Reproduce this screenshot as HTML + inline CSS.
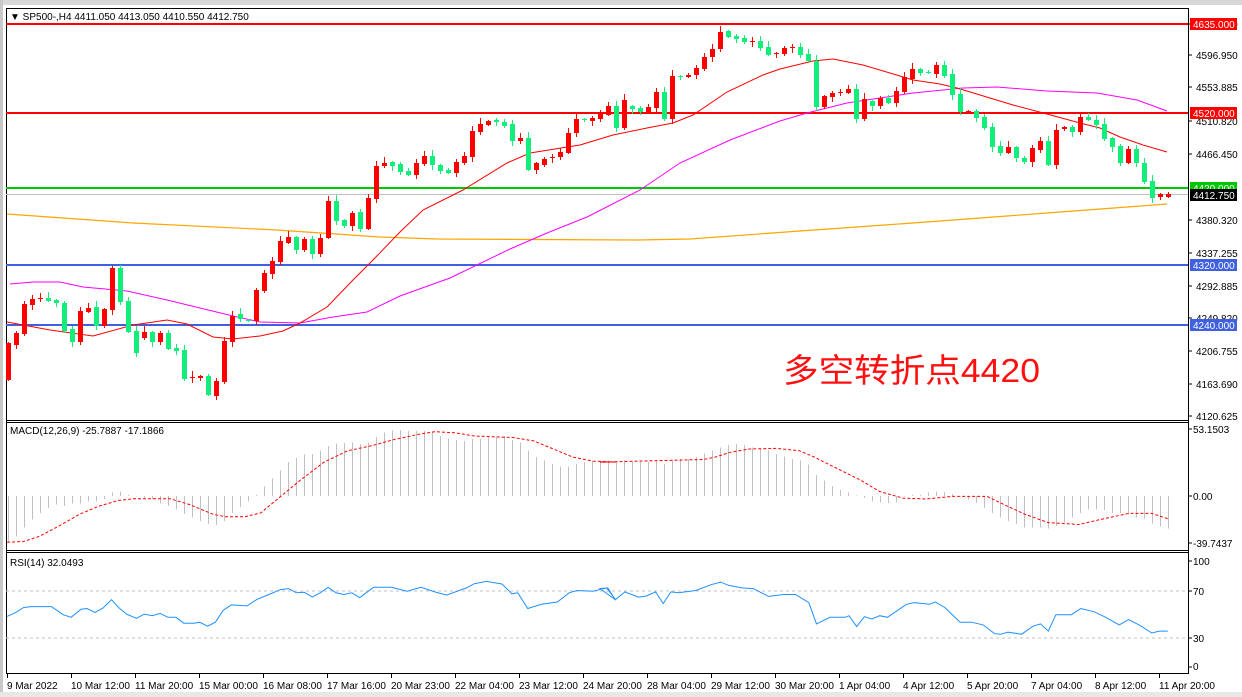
<!DOCTYPE html>
<html><head><meta charset="utf-8"><style>
html,body{margin:0;padding:0;background:#fff;}
svg{display:block;font-family:"Liberation Sans","Noto Sans CJK SC",sans-serif;}
</style></head><body>
<svg id="s" width="1242" height="697" xmlns="http://www.w3.org/2000/svg">
<rect x="0" y="0" width="1242" height="697" fill="#fff"/>
<rect x="0" y="0" width="1242" height="5" fill="#d8d8d8"/>
<rect x="0" y="0" width="3" height="697" fill="#c8c8c8"/>
<rect x="0" y="692" width="1242" height="5" fill="#e8e8e8"/>
<g id="g"></g>
<text x="783" y="382" font-size="33" textLength="257" lengthAdjust="spacingAndGlyphs" fill="#ff1010" font-family="'Liberation Sans','Noto Sans CJK SC',sans-serif">多空转折点4420</text>
</svg>
<script>
var g=document.getElementById('g'),h='';
function L(x1,y1,x2,y2,c,w,d){h+='<line x1="'+x1+'" y1="'+y1+'" x2="'+x2+'" y2="'+y2+'" stroke="'+c+'" stroke-width="'+(w||1)+'"'+(d?' stroke-dasharray="'+d+'"':'')+' shape-rendering="crispEdges"/>';}
function R(x,y,w,hh,c){h+='<rect x="'+x+'" y="'+y+'" width="'+w+'" height="'+hh+'" fill="'+c+'" shape-rendering="crispEdges"/>';}
function T(x,y,t,c,s,a){h+='<text x="'+x+'" y="'+y+'" font-size="'+(s||10)+'" fill="'+(c||'#000')+'"'+(a?' text-anchor="'+a+'"':'')+'>'+t+'</text>';}
function P(pts,c,w,d){h+='<polyline fill="none" stroke="'+c+'" stroke-width="'+(w||1)+'"'+(d?' stroke-dasharray="'+d+'"':'')+' points="'+pts.map(function(p){return p[0].toFixed(1)+','+p[1].toFixed(1)}).join(' ')+'"/>';}
var X0=6,X1=1188;
R(X0,8,X1-X0,1,'#000');R(X0,420,X1-X0,1,'#000');R(X0,422,X1-X0,1,'#000');R(X0,550,X1-X0,1,'#000');R(X0,552,X1-X0,1,'#000');R(X0,673,X1-X0,1,'#000');
R(X0,8,1,666,'#000');R(X1,8,1,666,'#000');
L(X0,24,X1,24,'#ff0000',2);L(X0,113,X1,113,'#ff0000',2);L(X0,188,X1,188,'#00c800',2);L(X0,194.5,X1,194.5,'#c0c0c0',1);
L(X0,265,X1,265,'#4060e0',2);L(X0,325,X1,325,'#4060e0',2);
var ora=[[7,214],[133,223],[277,230],[380,237],[437,239],[637,240],[690,239],[800,231],[913,223],[1047,213],[1167,204]];
P(ora,'#ffa500',1.2);
var mag=[[10,284],[33,282],[60,282],[83,287],[127,291],[167,300],[200,308],[233,316],[260,322],[300,323],[333,317],[367,312],[400,296],[450,278],[510,249],[547,233],[587,217],[640,190],[680,163],[730,140],[780,121],[807,113],[847,103],[913,93],[963,88],[997,87],[1047,91],[1097,93],[1137,100],[1167,111]];
P(mag,'#ff00ff',1);
var red=[[7,322],[50,330],[93,336],[133,325],[167,320],[187,324],[213,337],[233,339],[260,336],[283,331],[300,323],[327,307],[353,280],[373,260],[400,232],[423,210],[463,190],[507,163],[530,153],[580,145],[613,135],[647,128],[673,123],[693,115],[727,92],[763,75],[780,69],[813,61],[833,59],[863,65],[890,73],[913,80],[940,84],[957,88],[980,95],[1013,105],[1047,114],[1080,123],[1100,128],[1120,137],[1143,145],[1167,152]];
P(red,'#ff0000',1);
var A=[[490,600,'r'],[460,495,'r'],[372,462,'r'],[357,375,'r'],[353,358,'r'],[354,362,'g'],[360,370,'g'],[370,452,'g'],[447,485,'g'],[393,485,'r'],[384,395,'r'],[381,437,'g'],[387,437,'r'],[264,389,'r'],[264,365,'g'],[363,455,'g'],[453,518,'g'],[457,473,'r'],[457,485,'g'],[460,485,'r'],[459,507,'g'],[504,512,'g'],[510,596,'g'],[590,593,'r'],[588,593,'r'],[588,644,'g'],[603,647,'r'],[483,605,'r'],[408,485,'r'],[403,416,'g'],[420,422,'g'],[330,423,'r'],[280,332,'r'],[243,281,'r'],[183,245,'r'],[172,188,'r'],[170,210,'g'],[178,210,'r'],[177,221,'g'],[175,221,'r'],[63,173,'r'],[63,122,'g'],[121,137,'g'],[98,137,'r'],[97,148,'g'],[55,148,'r']];
var B=[[430,437,'r'],[425,437,'g'],[432,455,'g'],[452,465,'g'],[430,465,'r'],[408,432,'r'],[408,435,'g'],[435,452,'g'],[450,458,'g'],[427,458,'r'],[408,430,'r'],[333,410,'r'],[312,335,'r'],[302,315,'r'],[300,305,'g'],[305,318,'g'],[312,362,'g'],[355,362,'r'],[355,450,'g'],[430,450,'r'],[418,435,'r'],[410,413,'r'],[397,411,'r'],[340,398,'r'],[298,340,'r'],[298,300,'g'],[293,303,'r'],[280,298,'r'],[258,285,'r'],[258,325,'g'],[240,325,'r'],[258,266,'g'],[264,275,'g'],[262,278,'r'],[215,265,'r'],[216,296,'g'],[168,298,'r'],[168,172,'g'],[166,170,'r'],[145,166,'r'],[112,146,'r'],[87,112,'r'],[37,87,'r'],[34,50,'g'],[48,56,'g'],[55,65,'g'],[62,63,'r'],[63,83,'g'],[82,105,'g'],[98,103,'r']];
var C=[[85,103,'r'],[80,83,'r'],[82,105,'g'],[102,123,'g'],[122,262,'g'],[228,262,'r'],[218,230,'r'],[215,218,'r'],[208,218,'r'],[207,297,'g'],[238,296,'r'],[243,258,'g'],[235,258,'r'],[235,248,'g'],[213,248,'r'],[172,215,'r'],[147,177,'r'],[148,158,'g'],[156,160,'g'],[135,162,'r'],[135,168,'g'],[162,224,'g'],[222,275,'g'],[273,276,'r'],[272,293,'g'],[291,324,'g'],[321,381,'g'],[378,398,'g'],[381,398,'r'],[381,414,'g'],[414,425,'g'],[384,425,'r'],[363,390,'r'],[363,434,'g'],[330,434,'r'],[320,328,'r'],[320,335,'g'],[290,335,'r'],[291,300,'g'],[299,315,'g'],[312,356,'g'],[353,380,'g'],[377,428,'g'],[387,428,'r'],[387,428,'g'],[430,486,'g'],[484,533,'g'],[522,532,'r'],[522,530,'r']];
var cs=[];
A.forEach(function(c){cs.push([180+c[0]/3,180+c[1]/3,c[2]]);});
cs.push([166,199,'r']);
B.forEach(function(c){cs.push([20+c[0]/3,20+c[1]/3,c[2]]);});
C.forEach(function(c){cs.push([20+c[0]/3,20+c[1]/3,c[2]]);});
cs.forEach(function(c,i){
 var x=8+8*i,col=c[2]=='r'?'#ff0000':'#12ee7a';
 var t=Math.round(c[0]),b=Math.round(c[1]);if(b-t<1)b=t+1;
 var et=1+(i*37%6),eb=1+(i*53%5);
 L(x+0.5,t-et,x+0.5,b+eb,col,1);
 R(x-2,t,5,b-t,col);
});
var pl=[[4635.000,24],[4596.950,55],[4553.885,87],[4510.820,121],[4466.450,154],[4380.320,220],[4337.255,253],[4292.885,286],[4249.820,318],[4206.755,351],[4163.690,384],[4120.625,416]];
pl.forEach(function(p){L(X1,p[1],X1+4,p[1],'#000');T(1196,p[1]+4,p[0].toFixed(3),'#000',10);});
function box(y,t,bg,fg){R(1190,y-6,47,12,bg);T(1193,y+4,t,fg||'#fff',10);}
box(24,'4635.000','#ff0000');box(113,'4520.000','#ff0000');box(188,'4420.000','#00c800');box(195,'4412.750','#000','#fff');box(265,'4320.000','#4060e0');box(325,'4240.000','#4060e0');
T(10,20,'&#9660; SP500-,H4  4411.050 4413.050 4410.550 4412.750','#000',10);
T(10,434,'MACD(12,26,9) -25.7887 -17.1866','#000',10);
T(1193,433,'53.1503','#000',10);T(1193,500,'0.00','#000',10);T(1193,547,'-39.7437','#000',10);
L(X1,429,X1+4,429,'#000');L(X1,496,X1+4,496,'#000');L(X1,543,X1+4,543,'#000');
var hA=[380,362,335,311,290,275,265,270,262,262,255,255,248,228,225,235,240,245,248,262,270,280,293,305,315,325,328,315,290,272,256,236,210,185,160,135,122,112,110,100,85,78,76,75,80,75,58,45,38,37,40,40,40,45,55,62,68,70,65,62,60,58,55,68,75,100,120,130,140,148,148,140,135,130,132];
var hB=[130,135,130,135,135,135,130,140,130,125,125,120,108,100,90,83,80,83,90,95,100,110,118,125,130,143,175,192,208,220,228,237,245,255,258,260,258,240,235,236,228,225,226,232,238,250,260,275,290,305,315,325,335,335,335,338,330,320,305,290,280,280,282,290,290,295,305,308,323,332,338];
var hv=hA.concat(hB);
hv.forEach(function(v,i){var x=8+8*i+0.5,y=418+v/3.06;L(x,496,x,y,'#c0c0c0',1);});
var s6=[[18,380],[60,378],[100,362],[150,330],[200,295],[250,270],[300,252],[340,247],[430,247],[480,265],[540,295],[570,302],[620,302],[660,290],[700,250],[760,190],[820,135],[880,100],[940,85],[1000,65],[1060,50],[1100,42],[1150,45],[1200,55],[1300,60],[1350,70],[1400,95],[1450,120],[1500,132],[1560,135]].map(function(p){return[p[0]/2.53,418+p[1]/3.06]});
var s7=[[0,135],[270,127],[300,120],[340,105],[390,95],[460,93],[520,100],[560,120],[620,155],[680,190],[730,225],[790,245],[850,248],[920,240],[1010,240],[1060,268],[1110,295],[1170,320],[1250,326],[1300,312],[1380,292],[1440,292],[1482,308]].map(function(p){return[600+p[0]/2.61,418+p[1]/3.06]});
P(s6.concat(s7),'#ff0000',1,'3,2');
T(10,566,'RSI(14) 32.0493','#000',10);
L(X0,591,X1,591,'#c0c0c0',1,'3,3');L(X0,638,X1,638,'#c0c0c0',1,'3,3');
T(1193,565,'100','#000',10);T(1193,595,'70','#000',10);T(1193,642,'30','#000',10);T(1193,670,'0','#000',10);
[561,591,638,667].forEach(function(y){L(X1,y,X1+4,y,'#000');});
var r6=[[18,607],[40,595],[60,580],[80,577],[130,577],[160,602],[180,610],[205,585],[220,583],[240,595],[260,582],[282,556],[300,580],[320,600],[345,613],[365,600],[385,605],[405,598],[425,610],[445,610],[465,628],[490,628],[505,625],[525,637],[545,625],[565,588],[585,572],[625,575],[650,555],[680,540],[710,525],[730,522],[750,535],[770,533],[790,548],[810,535],[830,518],[850,535],[870,540],[890,535],[910,550],[945,518],[990,518],[1030,530],[1065,518],[1100,532],[1130,542],[1180,520],[1200,507],[1230,500],[1270,508],[1295,538],[1310,535],[1335,583],[1370,570],[1410,563],[1440,535],[1460,528],[1500,530],[1535,520],[1558,557]].map(function(p){return[p[0]/2.53,418+p[1]/3.06]});
var r7=[[0,522],[20,520],[40,556],[65,532],[100,548],[120,545],[145,532],[165,568],[185,532],[205,535],[250,528],[290,510],[315,502],[335,512],[370,520],[400,522],[440,546],[480,540],[510,540],[545,565],[565,630],[600,610],[640,610],[650,605],[670,638],[690,608],[710,615],[730,605],[750,610],[800,570],[820,565],[860,570],[875,563],[900,580],[940,625],[970,625],[1000,633],[1030,660],[1045,662],[1065,655],[1100,662],[1130,637],[1150,630],[1170,652],[1190,602],[1230,602],[1255,583],[1290,593],[1320,610],[1355,633],[1380,617],[1410,635],[1440,658],[1460,652],[1482,652]].map(function(p){return[600+p[0]/2.61,418+p[1]/3.06]});
P(r6.concat(r7),'#1e90ff',1);
var tl=['9 Mar 2022','10 Mar 12:00','11 Mar 20:00','15 Mar 00:00','16 Mar 08:00','17 Mar 16:00','20 Mar 23:00','22 Mar 04:00','23 Mar 12:00','24 Mar 20:00','28 Mar 04:00','29 Mar 12:00','30 Mar 20:00','1 Apr 04:00','4 Apr 12:00','5 Apr 20:00','7 Apr 04:00','8 Apr 12:00','11 Apr 20:00'];
tl.forEach(function(t,i){var x=7+64*i;L(x+0.5,673,x+0.5,678,'#000');T(x,689,t,'#000',10);});
g.innerHTML=h;
</script>
</body></html>
